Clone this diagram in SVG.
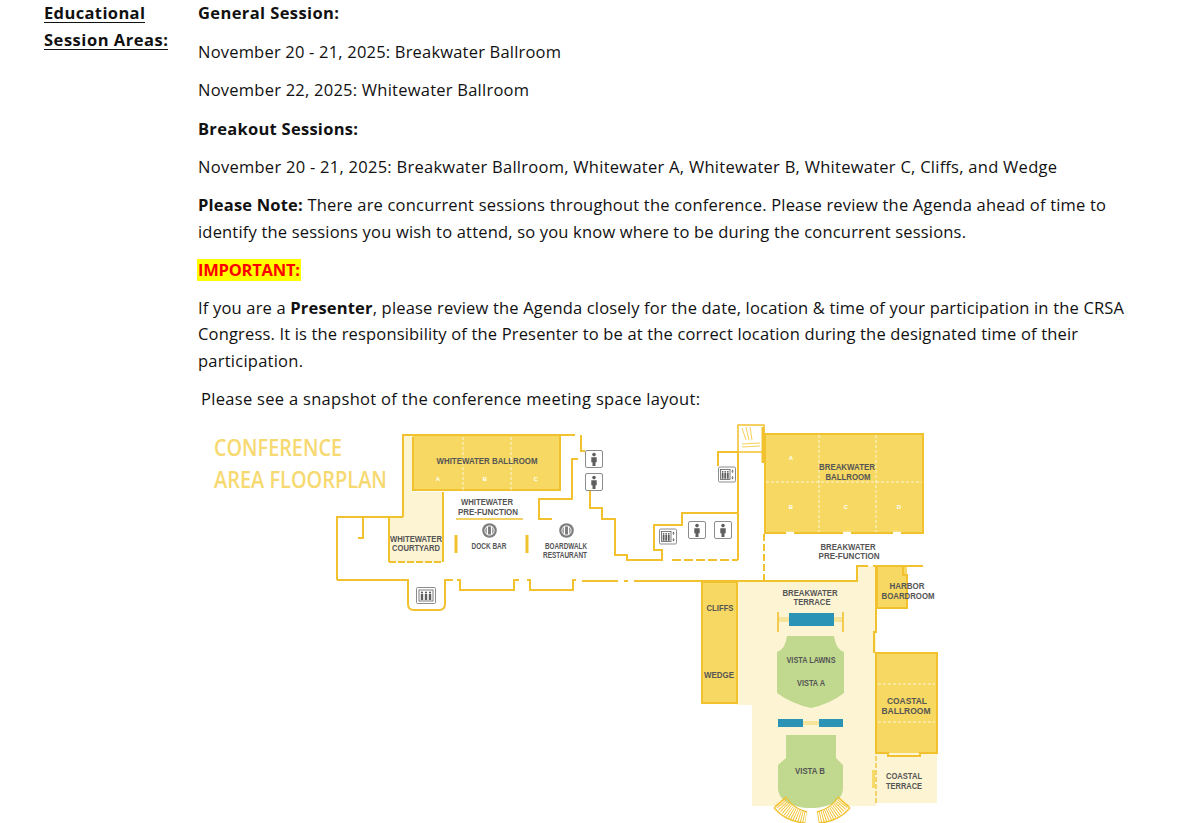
<svg xmlns="http://www.w3.org/2000/svg" width="1185" height="823" viewBox="0 0 1185 823">
<style>
.t{font-family:"Open Sans","Liberation Sans",sans-serif;font-size:16.5px;fill:#111}
.b{font-weight:700}
.lbl{font-family:"Liberation Sans",Arial,sans-serif;font-weight:700;font-size:8.3px;fill:#555;text-anchor:middle}
.let{font-family:"Liberation Sans",Arial,sans-serif;font-weight:700;font-size:6px;fill:#fff;text-anchor:middle}
.ttl{font-family:"Open Sans","Liberation Sans",sans-serif;font-weight:600;font-size:23px;fill:#f6d970}
.wall{fill:none;stroke:#f2c12e;stroke-width:2;stroke-linejoin:miter}
.wallt{fill:none;stroke:#f2c12e;stroke-width:1.5}
.room{fill:#f6d862}
.light{fill:#fcf4d3}
.div{fill:none;stroke:#fff;stroke-width:0.8;stroke-dasharray:3 2}
.green{fill:#c0d98f}
.teal{fill:#2b93b5}
</style>
<defs>
<symbol id="wc" viewBox="0 0 18 18">
<rect x="0.5" y="0.5" width="17" height="17" rx="1.5" fill="#fff" stroke="#8c8c8c" stroke-width="1"/>
<circle cx="9" cy="4.6" r="1.8" fill="#5e5e5e"/>
<path d="M6.3,7.2 h5.4 v5 h-1.2 v3.8 h-3 v-3.8 h-1.2 z" fill="#5e5e5e"/>
</symbol>
<symbol id="lift" viewBox="0 0 18 16">
<rect x="0.5" y="0.5" width="17" height="15" rx="1.2" fill="#fff" stroke="#8c8c8c" stroke-width="1"/>
<rect x="2.5" y="3" width="9.5" height="10" fill="none" stroke="#5e5e5e" stroke-width="0.8"/>
<circle cx="4.6" cy="5.3" r="0.9" fill="#5e5e5e"/><circle cx="7.2" cy="5.3" r="0.9" fill="#5e5e5e"/><circle cx="9.8" cy="5.3" r="0.9" fill="#5e5e5e"/>
<path d="M3.7,6.6h1.8v5.6h-1.8z M6.3,6.6h1.8v5.6h-1.8z M8.9,6.6h1.8v5.6h-1.8z" fill="#5e5e5e"/>
<path d="M14.5,3 l-1.3,2 h2.6 z M14.5,13 l-1.3,-2 h2.6 z" fill="#5e5e5e"/>
<path d="M14.5,5 v1.5 M14.5,9.5 v1.5" stroke="#5e5e5e" stroke-width="0.7"/>
</symbol>
<symbol id="lift2" viewBox="0 0 20 17">
<rect x="0.5" y="0.5" width="19" height="16" rx="1.2" fill="#fff" stroke="#8c8c8c" stroke-width="1"/>
<rect x="3" y="3" width="14" height="11" fill="none" stroke="#5e5e5e" stroke-width="0.8"/>
<circle cx="6" cy="5.5" r="1.1" fill="#5e5e5e"/><circle cx="10" cy="5.5" r="1.1" fill="#5e5e5e"/><circle cx="14" cy="5.5" r="1.1" fill="#5e5e5e"/>
<path d="M4.8,7h2.4v6h-2.4z M8.8,7h2.4v6h-2.4z M12.8,7h2.4v6h-2.4z" fill="#5e5e5e"/>
</symbol>
<symbol id="dine" viewBox="0 0 14 14">
<circle cx="7" cy="7" r="6.8" fill="#7d7d7d"/>
<circle cx="7" cy="7" r="4.3" fill="none" stroke="#fff" stroke-width="0.9"/>
<path d="M5,3.3 v7.4 M9,3.3 v7.4" stroke="#fff" stroke-width="1.2"/>
</symbol>
</defs>

<g id="text-block">
<text class="t b" x="44" y="19" textLength="101">Educational</text>
<line x1="44" y1="22.5" x2="145" y2="22.5" stroke="#111" stroke-width="1.2"/>
<text class="t b" x="44" y="46" textLength="124">Session Areas:</text>
<line x1="44" y1="49.5" x2="168" y2="49.5" stroke="#111" stroke-width="1.2"/>
<text class="t b" x="198" y="19" textLength="141">General Session:</text>
<text class="t" x="198" y="58" textLength="363">November 20 - 21, 2025: Breakwater Ballroom</text>
<text class="t" x="198" y="96" textLength="331">November 22, 2025: Whitewater Ballroom</text>
<text class="t b" x="198" y="135" textLength="160">Breakout Sessions:</text>
<text class="t" x="198" y="173" textLength="859">November 20 - 21, 2025: Breakwater Ballroom, Whitewater A, Whitewater B, Whitewater C, Cliffs, and Wedge</text>
<text class="t" x="198" y="211" textLength="908"><tspan class="b">Please Note:</tspan> There are concurrent sessions throughout the conference. Please review the Agenda ahead of time to</text>
<text class="t" x="198" y="238" textLength="768">identify the sessions you wish to attend, so you know where to be during the concurrent sessions.</text>
<rect x="197" y="259" width="104" height="22" fill="#ffff00"/>
<text class="t b" x="198" y="276" textLength="102" style="fill:#ff0000">IMPORTANT:</text>
<text class="t" x="198" y="314" textLength="926">If you are a <tspan class="b">Presenter</tspan>, please review the Agenda closely for the date, location &amp; time of your participation in the CRSA</text>
<text class="t" x="198" y="340" textLength="880">Congress. It is the responsibility of the Presenter to be at the correct location during the designated time of their</text>
<text class="t" x="198" y="367" textLength="105">participation.</text>
<text class="t" x="201" y="405" textLength="499">Please see a snapshot of the conference meeting space layout:</text>
</g>

<g id="floorplan">
<text class="ttl" x="214" y="456" textLength="128" lengthAdjust="spacingAndGlyphs">CONFERENCE</text>
<text class="ttl" x="214" y="488" textLength="173" lengthAdjust="spacingAndGlyphs">AREA FLOORPLAN</text>

<g id="fills">
<path class="light" d="M403,435 L413,435 L413,492 L443,492 L443,562 L389,562 L389,517 L403,517 Z"/>
<path class="light" d="M737,582 L857,582 L857,566 L877,566 L877,608 L876,608 L876,806 L752,806 L752,705 L737,705 Z"/>
<rect class="light" x="876" y="753" width="61" height="50"/>
</g>

<g id="whitewater-ballroom">
<rect class="room" x="413" y="436" width="147" height="54"/>
<path class="wall" d="M413,437 L413,490 L560,490 L560,436"/>
<path class="div" d="M463,437 V490 M511,437 V490"/>
<text class="lbl" x="487" y="464" textLength="101" lengthAdjust="spacingAndGlyphs" style="font-size:9.5px">WHITEWATER BALLROOM</text>
<text class="let" x="438" y="481">A</text><text class="let" x="485" y="481">B</text><text class="let" x="536" y="481">C</text>
</g>

<g id="whitewater-prefunction">
<text class="lbl" x="487" y="505" textLength="52" lengthAdjust="spacingAndGlyphs">WHITEWATER</text>
<text class="lbl" x="488" y="515" textLength="60" lengthAdjust="spacingAndGlyphs">PRE-FUNCTION</text>
</g>

<g id="whitewater-courtyard">
<text class="lbl" x="416" y="542" textLength="52" lengthAdjust="spacingAndGlyphs">WHITEWATER</text>
<text class="lbl" x="416" y="551" textLength="48" lengthAdjust="spacingAndGlyphs">COURTYARD</text>
</g>

<g id="dock-bar">
<use href="#dine" x="482" y="523" width="15" height="15"/>
<text class="lbl" x="489" y="549" textLength="35" lengthAdjust="spacingAndGlyphs">DOCK BAR</text>
</g>

<g id="boardwalk-restaurant">
<use href="#dine" x="559" y="523" width="15" height="15"/>
<text class="lbl" x="566" y="549" textLength="42" lengthAdjust="spacingAndGlyphs">BOARDWALK</text>
<text class="lbl" x="565" y="558" textLength="44" lengthAdjust="spacingAndGlyphs">RESTAURANT</text>
</g>

<g id="breakwater-ballroom">
<rect class="room" x="765" y="434" width="158" height="99"/>
<path class="wall" d="M765,434 L923,434 L923,533 L765,533 Z"/>
<path d="M786,533 H794 M843,533 H851 M893,533 H901" stroke="#fff" stroke-width="2.5"/>
<path class="div" d="M819,435 V532 M876,435 V532 M766,482 H922"/>
<text class="lbl" x="847" y="470" textLength="56" lengthAdjust="spacingAndGlyphs">BREAKWATER</text>
<text class="lbl" x="848" y="480" textLength="45" lengthAdjust="spacingAndGlyphs">BALLROOM</text>
<text class="let" x="791" y="460">A</text><text class="let" x="791" y="509">B</text><text class="let" x="846" y="509">C</text><text class="let" x="899" y="509">D</text>
</g>

<g id="breakwater-prefunction">
<text class="lbl" x="848" y="550" textLength="55" lengthAdjust="spacingAndGlyphs">BREAKWATER</text>
<text class="lbl" x="849" y="559" textLength="61" lengthAdjust="spacingAndGlyphs">PRE-FUNCTION</text>
</g>

<g id="harbor-boardroom">
<rect class="room" x="877" y="566" width="30" height="42"/>
<path class="wall" d="M877,566 L877,608 L907,608 L907,575 L903,575 L903,566"/>
<text class="lbl" x="907" y="589" textLength="35" lengthAdjust="spacingAndGlyphs">HARBOR</text>
<text class="lbl" x="908" y="599" textLength="53" lengthAdjust="spacingAndGlyphs">BOARDROOM</text>
</g>

<g id="breakwater-terrace">
<text class="lbl" x="810" y="596" textLength="55" lengthAdjust="spacingAndGlyphs">BREAKWATER</text>
<text class="lbl" x="812" y="605" textLength="37" lengthAdjust="spacingAndGlyphs">TERRACE</text>
<rect x="778" y="617" width="65" height="5" fill="#f5e49c"/>
<rect class="teal" x="789" y="613" width="45" height="13"/>
<path d="M778,612 V632 M843,612 V632" stroke="#f2c12e" stroke-width="1.6"/>
</g>

<g id="cliffs-wedge">
<rect class="room" x="702" y="582" width="35" height="121" stroke="#f2c12e" stroke-width="2"/>
<text class="lbl" x="720" y="611" textLength="27" lengthAdjust="spacingAndGlyphs">CLIFFS</text>
<text class="lbl" x="719" y="678" textLength="30" lengthAdjust="spacingAndGlyphs">WEDGE</text>
</g>

<g id="vista-a">
<path class="green" d="M787,636 L834,636 Q836,650 844,652 L844,693 Q830,704 811,708 Q792,704 777,693 L777,652 Q785,650 787,636 Z"/>
<text class="lbl" x="811" y="663" textLength="49" lengthAdjust="spacingAndGlyphs">VISTA LAWNS</text>
<text class="lbl" x="811" y="686" textLength="28" lengthAdjust="spacingAndGlyphs">VISTA A</text>
</g>

<g id="vista-divider">
<rect x="803" y="721" width="16" height="4" fill="#f5e49c"/>
<rect class="teal" x="778" y="719" width="25" height="8"/>
<rect class="teal" x="819" y="719" width="24" height="8"/>
</g>

<g id="vista-b">
<path class="green" d="M786,735 L836,735 L836,758 L843,765 L843,788 C843,800 830,808 811,808 C792,808 778,800 778,788 L778,765 L786,758 Z"/>
<text class="lbl" x="810" y="774" textLength="30" lengthAdjust="spacingAndGlyphs">VISTA B</text>
</g>

<g id="coastal-ballroom">
<rect class="room" x="876" y="653" width="61" height="100"/>
<path class="wall" d="M876,653 L937,653 L937,753 L920,753 L920,756 L888,756 L888,753 L876,753 Z"/>
<path class="div" d="M878,684 H935 M878,722 H935"/>
<text class="lbl" x="907" y="704" textLength="40" lengthAdjust="spacingAndGlyphs" style="font-size:9.5px">COASTAL</text>
<text class="lbl" x="906" y="714" textLength="49" lengthAdjust="spacingAndGlyphs" style="font-size:9.5px">BALLROOM</text>
</g>

<g id="coastal-terrace">
<path d="M876,756 V803" stroke="#f2c12e" stroke-width="1.3" stroke-dasharray="5 2"/>
<rect x="872" y="770" width="3" height="18" fill="#f5dc6a"/>
<text class="lbl" x="904" y="779" textLength="36" lengthAdjust="spacingAndGlyphs">COASTAL</text>
<text class="lbl" x="904" y="789" textLength="36" lengthAdjust="spacingAndGlyphs">TERRACE</text>
</g>

<g id="restrooms">
<use href="#wc" x="585" y="450" width="18" height="18"/>
<use href="#wc" x="585" y="473" width="18" height="18"/>
<use href="#wc" x="688" y="521" width="18" height="18"/>
<use href="#wc" x="714" y="521" width="18" height="18"/>
</g>

<g id="elevators">
<use href="#lift" x="718" y="466" width="18" height="17"/>
<use href="#lift" x="659" y="527" width="18" height="19"/>
<use href="#lift2" x="416" y="587" width="20" height="17"/>
</g>

<g id="stairs">
<rect x="738" y="425" width="26" height="27" fill="#fff" stroke="#f2c12e" stroke-width="1.5"/>
<path d="M742,428 L746,440 M746,427 L749,440 M750,427 L752,440 M742,444 L760,443 M742,447 L760,446" stroke="#f2c12e" stroke-width="0.8" fill="none"/>
<path d="M763,427 V463" stroke="#f2c12e" stroke-width="3"/>
<path d="M780,802 A39,39 0 0 0 806,818" fill="none" stroke="#f2c12e" stroke-width="12" stroke-dasharray="0.9 1.3"/>
<path d="M818,818 A39,39 0 0 0 844,802" fill="none" stroke="#f2c12e" stroke-width="12" stroke-dasharray="0.9 1.3"/>
<path d="M774,808 A45,45 0 0 0 805,823 M819,823 A45,45 0 0 0 850,808 M786,797 A33,33 0 0 0 807,812 M817,812 A33,33 0 0 0 838,797" fill="none" stroke="#f2c12e" stroke-width="1.3"/>
<path d="M774,808 L786,797 M850,808 L838,797" stroke="#f2c12e" stroke-width="1.3"/>
</g>

<g id="connectors">
<path class="wall" d="M403,517 L403,435 L575,435"/>
<path class="wall" d="M581,435 L581,451 L585,451"/>
<path class="wall" d="M337,580 L337,517 L403,517"/>
<path class="wall" d="M363,517 L363,538 L358,538"/>
<path class="wall" d="M443,492 L443,562 M389,517 L389,562"/>
<path class="wall" d="M389,562 L443,562" stroke-dasharray="7 2"/>
<path class="wall" d="M337,580 L408,580 L408,604 Q408,610 414,610 L439,610 Q445,610 445,604 L445,580 L453,580"/>
<path class="wall" d="M457,580 L460,580 L460,590 L514,590 L514,580 L519,580"/>
<path class="wall" d="M527,580 L530,580 L530,590 L573,590 L573,580 L576,580"/>
<path class="wall" d="M582,581 L618,581 M624,581 L628,581 M634,581 L857,581 L857,566 L868,566 M873,566 L923,566"/>
<path class="wallt" d="M456,519 L523,519"/>
<path d="M456,535 V553 M527,535 V553" stroke="#f2c12e" stroke-width="3"/>
<path class="wall" d="M578,459 L572,459 L572,499 L539,499 L539,519 L552,519"/>
<path class="wall" d="M590,491 L590,508 L602,508 L602,519 L615,519 L615,555 L627,555 L627,560 L662,560 L662,550 L654,550 L654,525 L682,525 L682,513 L738,513 L738,452 L718,452 L718,466"/>
<path class="wall" d="M738,513 L738,560"/>
<path class="wall" d="M672,560 L738,560" stroke-dasharray="9 3"/>
<path class="wall" d="M764,534 L764,580" stroke-dasharray="7 3"/>
<path class="wall" d="M876,566 L876,632 L874,632 L874,653"/>
</g>
</g>
</svg>
